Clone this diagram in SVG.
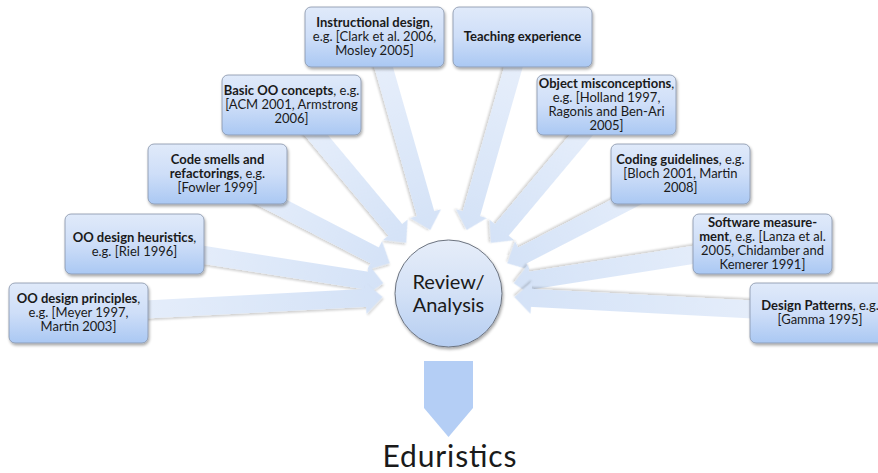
<svg xmlns="http://www.w3.org/2000/svg" width="878" height="473" viewBox="0 0 878 473">
<defs>
  <linearGradient id="boxGrad" x1="0" y1="0" x2="0" y2="1">
    <stop offset="0" stop-color="#e0eafa"/>
    <stop offset="0.5" stop-color="#cedef8"/>
    <stop offset="1" stop-color="#aac8f3"/>
  </linearGradient>
  <linearGradient id="circGrad" x1="0" y1="0" x2="0" y2="1">
    <stop offset="0" stop-color="#e6edf9"/>
    <stop offset="0.5" stop-color="#d3e1f6"/>
    <stop offset="1" stop-color="#b5cdf1"/>
  </linearGradient>
  <linearGradient id="arrGrad" x1="0" y1="0" x2="1" y2="0" gradientUnits="objectBoundingBox">
    <stop offset="0" stop-color="#e9f0fb"/>
    <stop offset="1" stop-color="#d4e2f7"/>
  </linearGradient>
  <filter id="shadow" x="-10%" y="-10%" width="130%" height="140%">
    <feGaussianBlur in="SourceAlpha" stdDeviation="1.5"/>
    <feOffset dx="0.5" dy="2" result="b"/>
    <feComponentTransfer><feFuncA type="linear" slope="0.35"/></feComponentTransfer>
    <feMerge><feMergeNode/><feMergeNode in="SourceGraphic"/></feMerge>
  </filter>
  <filter id="ashadow" x="-10%" y="-30%" width="120%" height="160%">
    <feGaussianBlur in="SourceAlpha" stdDeviation="1"/>
    <feOffset dx="0.5" dy="1.5" result="b"/>
    <feComponentTransfer><feFuncA type="linear" slope="0.18"/></feComponentTransfer>
    <feMerge><feMergeNode/><feMergeNode in="SourceGraphic"/></feMerge>
  </filter>
</defs>
<style>
  .box { fill: url(#boxGrad); stroke: #8593a8; stroke-width: 0.8; filter: url(#shadow); }
  .lbl { font-family: Lato, "Open Sans", sans-serif; font-size: 13px; fill: #1a1a1a; text-anchor: middle; }
  .b { font-weight: bold; }
  .arr { fill: url(#arrGrad); filter: url(#ashadow); }
  .circ { fill: url(#circGrad); stroke: #6d7480; stroke-width: 1; filter: url(#shadow); }
  .big { font-family: Lato, "Open Sans", sans-serif; fill: #1a1a1a; text-anchor: middle; }
</style>

<g id="connectors">
  <path class="arr" transform="translate(430.3,230.0) rotate(74.01)" d="M-200.8,-9 L-17,-9 L-17,-16 L0,0 L-17,16 L-17,9 L-200.8,9 Z"/>
  <path class="arr" transform="translate(466.7,230.0) rotate(105.99)" d="M-200.8,-9 L-17,-9 L-17,-16 L0,0 L-17,16 L-17,9 L-200.8,9 Z"/>
  <path class="arr" transform="translate(406.2,242.8) rotate(50.12)" d="M-179.6,-9 L-17,-9 L-17,-16 L0,0 L-17,16 L-17,9 L-179.6,9 Z"/>
  <path class="arr" transform="translate(490.9,242.9) rotate(129.97)" d="M-180,-9 L-17,-9 L-17,-16 L0,0 L-17,16 L-17,9 L-180,9 Z"/>
  <path class="arr" transform="translate(389.8,263.2) rotate(27.30)" d="M-194.5,-9 L-17,-9 L-17,-16 L0,0 L-17,16 L-17,9 L-194.5,9 Z"/>
  <path class="arr" transform="translate(507.2,263.3) rotate(152.75)" d="M-195,-9 L-17,-9 L-17,-16 L0,0 L-17,16 L-17,9 L-195,9 Z"/>
  <path class="arr" transform="translate(383.3,283.2) rotate(8.96)" d="M-251.9,-9 L-17,-9 L-17,-16 L0,0 L-17,16 L-17,9 L-251.9,9 Z"/>
  <path class="arr" transform="translate(513.7,283.2) rotate(171.04)" d="M-251.9,-9 L-17,-9 L-17,-16 L0,0 L-17,16 L-17,9 L-251.9,9 Z"/>
  <path class="arr" transform="translate(382.6,297.0) rotate(-3.01)" d="M-305,-9 L-17,-9 L-17,-16 L0,0 L-17,16 L-17,9 L-305,9 Z"/>
  <path class="arr" transform="translate(514.4,297.0) rotate(183.0)" d="M-306,-9 L-17,-9 L-17,-16 L0,0 L-17,16 L-17,9 L-306,9 Z"/>
  <path id="down-arrow" d="M424,361 L473,361 L473,408 L448.5,437 L424,408 Z" fill="#b4cef5"/>
</g>

<g id="node-instructional">
  <rect class="box" x="305" y="7" width="139" height="60" rx="6"/>
  <text class="lbl" x="374.5" y="27"><tspan class="b">Instructional design</tspan>,<tspan x="374.5" dy="14">e.g. [Clark et al. 2006,</tspan><tspan x="374.5" dy="14">Mosley 2005]</tspan></text>
</g>
<g id="node-teaching">
  <rect class="box" x="453" y="7" width="139" height="60" rx="6"/>
  <text class="lbl b" x="522.5" y="41">Teaching experience</text>
</g>
<g id="node-basic-oo">
  <rect class="box" x="222" y="75" width="139" height="60" rx="6"/>
  <text class="lbl" x="291.5" y="95"><tspan class="b">Basic OO concepts</tspan>, e.g.<tspan x="291.5" dy="14">[ACM 2001, Armstrong</tspan><tspan x="291.5" dy="14">2006]</tspan></text>
</g>
<g id="node-object-misconceptions">
  <rect class="box" x="537" y="75" width="139" height="60" rx="6"/>
  <text class="lbl" x="606.5" y="88"><tspan class="b">Object misconceptions</tspan>,<tspan x="606.5" dy="14">e.g. [Holland 1997,</tspan><tspan x="606.5" dy="14">Ragonis and Ben-Ari</tspan><tspan x="606.5" dy="14">2005]</tspan></text>
</g>
<g id="node-code-smells">
  <rect class="box" x="148" y="144" width="139" height="60" rx="6"/>
  <text class="lbl" x="217.5" y="164"><tspan class="b">Code smells and</tspan><tspan x="217.5" dy="14" class="b">refactorings</tspan>, e.g.<tspan x="217.5" dy="14">[Fowler 1999]</tspan></text>
</g>
<g id="node-coding-guidelines">
  <rect class="box" x="611" y="144" width="139" height="60" rx="6"/>
  <text class="lbl" x="680.5" y="164"><tspan class="b">Coding guidelines</tspan>, e.g.<tspan x="680.5" dy="14">[Bloch 2001, Martin</tspan><tspan x="680.5" dy="14">2008]</tspan></text>
</g>
<g id="node-heuristics">
  <rect class="box" x="65" y="214" width="139" height="60" rx="6"/>
  <text class="lbl" x="134.5" y="241.5"><tspan class="b">OO design heuristics</tspan>,<tspan x="134.5" dy="14">e.g. [Riel 1996]</tspan></text>
</g>
<g id="node-software-measurement">
  <rect class="box" x="693" y="214" width="139" height="60" rx="6"/>
  <text class="lbl" x="762.5" y="227"><tspan class="b">Software measure-</tspan><tspan x="762.5" dy="14" class="b">ment</tspan>, e.g. [Lanza et al.<tspan x="762.5" dy="14">2005, Chidamber and</tspan><tspan x="762.5" dy="14">Kemerer 1991]</tspan></text>
</g>
<g id="node-principles">
  <rect class="box" x="9" y="283" width="139" height="60" rx="6"/>
  <text class="lbl" x="78.5" y="303"><tspan class="b">OO design principles</tspan>,<tspan x="78.5" dy="14">e.g. [Meyer 1997,</tspan><tspan x="78.5" dy="14">Martin 2003]</tspan></text>
</g>
<g id="node-design-patterns">
  <rect class="box" x="750" y="283" width="140" height="60" rx="6"/>
  <text class="lbl" x="820" y="310"><tspan class="b">Design Patterns</tspan>, e.g.<tspan x="820" dy="14">[Gamma 1995]</tspan></text>
</g>

<g id="node-review">
  <circle class="circ" cx="448.5" cy="293.5" r="53.5"/>
  <text class="big" x="448.5" y="289" font-size="20">Review/<tspan x="448.5" dy="23">Analysis</tspan></text>
</g>

<g id="node-eduristics">
  <text class="big" x="449.5" y="467" font-size="30" textLength="134" lengthAdjust="spacing">Eduristics</text>
</g>
</svg>
